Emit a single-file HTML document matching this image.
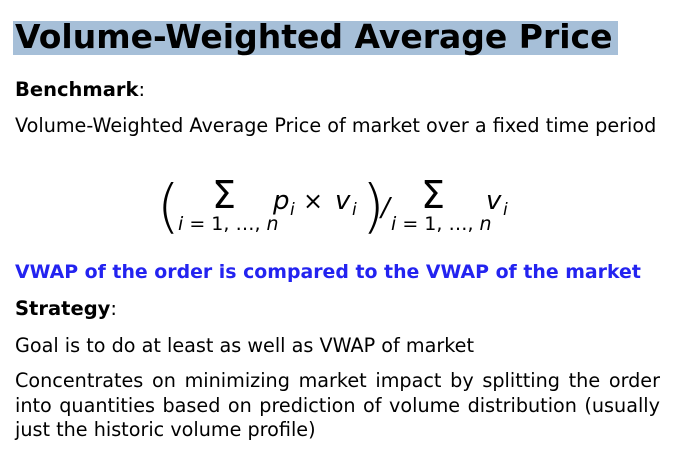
<!DOCTYPE html>
<html><head><meta charset="utf-8"><style>
body{margin:0;width:679px;height:456px;background:#fff;overflow:hidden;font-family:"DejaVu Sans","Liberation Sans",sans-serif;color:#000;position:relative}
.t{position:absolute;white-space:nowrap}
.j{width:645px;text-align:justify;text-align-last:justify;white-space:normal}
</style></head><body>
<div class="t" style="left:13px;top:21px;width:605px;height:34px;background:#a6bfd8"></div>
<div class="t" style="left:15px;top:16px;font-weight:bold;font-size:33px;line-height:42px">Volume-Weighted Average Price</div>
<div class="t" style="left:15px;top:78px;font-size:19.5px;line-height:24px"><b>Benchmark</b>:</div>
<div class="t" style="left:15px;top:114px;font-size:19.2px;line-height:24px">Volume-Weighted Average Price of market over a fixed time period</div>
<svg class="t" style="left:0;top:160px" width="679" height="80" font-family="DejaVu Sans, sans-serif">
<text x="157" y="66" font-size="58" font-weight="200">(</text>
<text x="212" y="48" font-size="38">Σ</text>
<text x="178" y="70" font-size="19" font-style="italic">i<tspan font-style="normal"> = 1, …, </tspan>n</text>
<text x="273" y="49" font-size="26" font-style="italic">p</text>
<text x="290" y="55" font-size="17" font-style="italic">i</text>
<text x="303" y="49" font-size="24">×</text>
<text x="335" y="49" font-size="26" font-style="italic">v</text>
<text x="352" y="55" font-size="17" font-style="italic">i</text>
<text x="362" y="66" font-size="58" font-weight="200">)</text>
<text x="381" y="56" font-size="26" font-style="italic">/</text>
<text x="421" y="48" font-size="38">Σ</text>
<text x="391" y="70" font-size="19" font-style="italic">i<tspan font-style="normal"> = 1, …, </tspan>n</text>
<text x="486" y="49" font-size="26" font-style="italic">v</text>
<text x="503" y="55" font-size="17" font-style="italic">i</text>
</svg>
<div class="t" style="left:15px;top:260px;font-size:18.9px;line-height:24px;font-weight:bold;color:#2323f0">VWAP of the order is compared to the VWAP of the market</div>
<div class="t" style="left:15px;top:297px;font-size:19.5px;line-height:24px"><b>Strategy</b>:</div>
<div class="t" style="left:15px;top:334px;font-size:19.2px;line-height:24px">Goal is to do at least as well as VWAP of market</div>
<div class="t" style="left:15px;top:369px;font-size:19.2px;line-height:24.5px">
<div class="j">Concentrates on minimizing market impact by splitting the order</div>
<div class="j">into quantities based on prediction of volume distribution (usually</div>
<div>just the historic volume profile)</div>
</div>
</body></html>
